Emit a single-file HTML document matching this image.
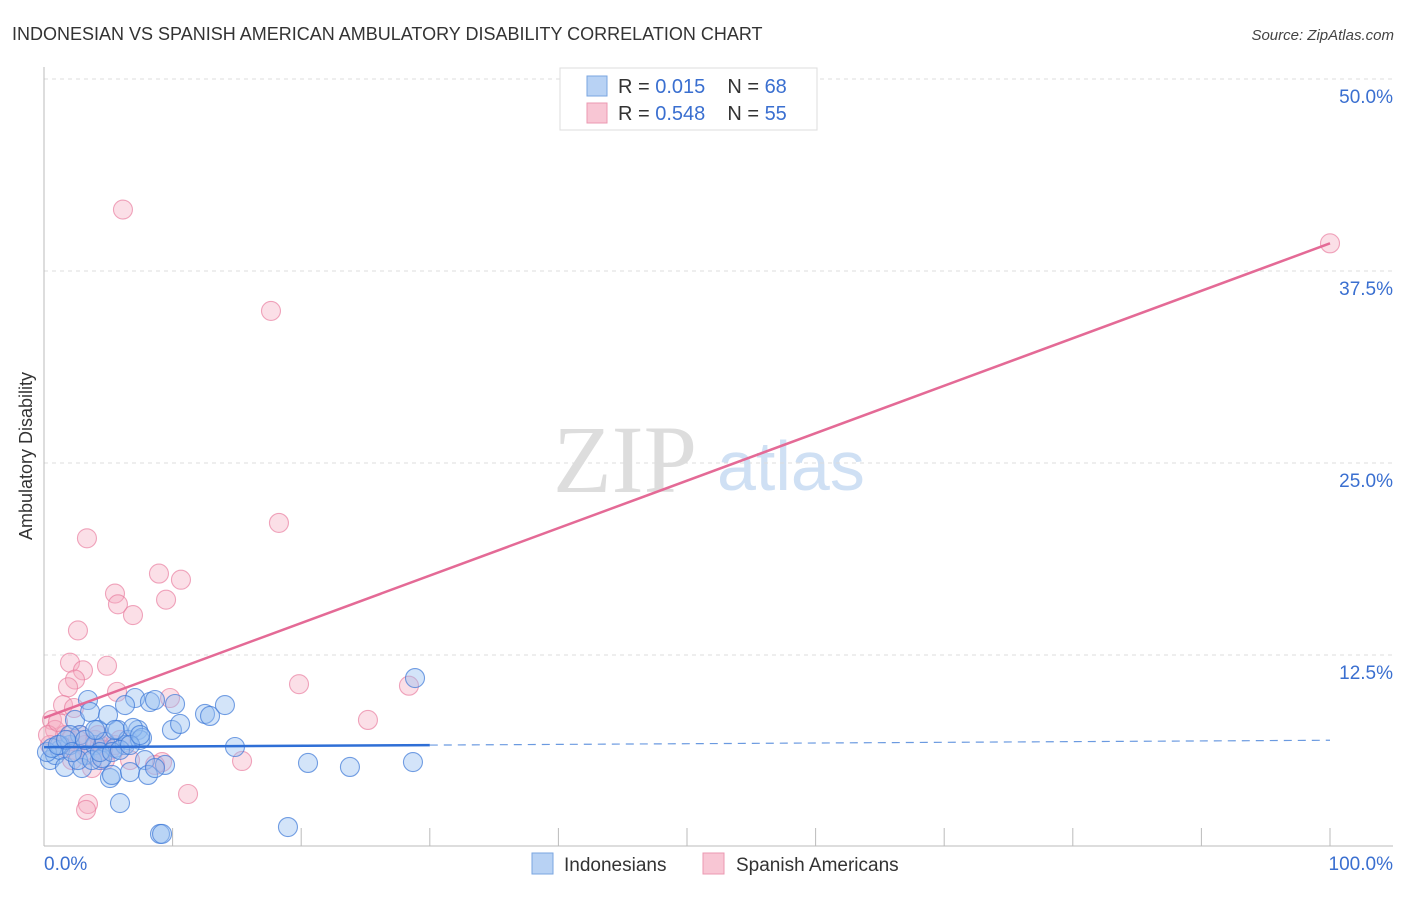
<!DOCTYPE html>
<html><head><meta charset="utf-8"><style>
body{margin:0;background:#fff;font-family:"Liberation Sans",sans-serif;}
svg text{font-family:"Liberation Sans",sans-serif;}
</style></head><body>
<svg id="chart" width="1406" height="892" xmlns="http://www.w3.org/2000/svg">
<text x="12" y="40" font-size="18" fill="#333">INDONESIAN VS SPANISH AMERICAN AMBULATORY DISABILITY CORRELATION CHART</text>
<text x="1394" y="40" font-size="15" fill="#444" font-style="italic" text-anchor="end">Source: ZipAtlas.com</text>
<g>
<text x="553" y="492" font-size="96" fill="#ddd" style="font-family:'Liberation Serif',serif">ZIP</text>
<text x="717" y="490" font-size="70" fill="#cfe0f4">atlas</text>
</g>
<g id="grid"></g>
<g id="axes"></g>
<text transform="translate(32,456) rotate(-90)" font-size="18" fill="#333" text-anchor="middle">Ambulatory Disability</text>
<g id="marks"></g>
<g>
<rect x="560" y="68" width="257" height="62" fill="#fff" stroke="#ddd"/>
<rect x="587" y="76" width="20" height="20" fill="#b8d2f4" stroke="#7aa6e0"/>
<rect x="587" y="103" width="20" height="20" fill="#f8c6d4" stroke="#eb98b2"/>
<text x="618" y="93" font-size="20" fill="#333">R = <tspan fill="#3a6fd0">0.015</tspan><tspan dx="22">N = </tspan><tspan fill="#3a6fd0">68</tspan></text>
<text x="618" y="120" font-size="20" fill="#333">R = <tspan fill="#3a6fd0">0.548</tspan><tspan dx="22">N = </tspan><tspan fill="#3a6fd0">55</tspan></text>
</g>
<g>
<rect x="532" y="853" width="21" height="21" fill="#b8d2f4" stroke="#7aa6e0"/>
<text x="564" y="871" font-size="19" fill="#333">Indonesians</text>
<rect x="703" y="853" width="21" height="21" fill="#f8c6d4" stroke="#eb98b2"/>
<text x="736" y="871" font-size="19" fill="#333">Spanish Americans</text>
</g>
</svg>
<script>
const yTicks=[12.5,25,37.5,50];
const yTickLabels=["12.5%","25.0%","37.5%","50.0%"];
const xTickVals=[0,10,20,30,40,50,60,70,80,90,100];
const blueX=[0.47,0.86,1.24,1.63,2.02,2.41,2.80,3.19,2.95,3.42,3.58,3.97,4.20,4.35,4.74,4.98,5.13,5.29,5.52,5.75,5.91,6.30,6.53,6.69,7.08,7.31,7.47,7.85,8.09,8.24,8.63,9.02,9.18,9.41,9.95,10.19,10.58,12.52,12.91,14.07,14.85,18.97,20.53,23.79,28.69,28.85,1.24,2.02,2.64,3.73,4.51,5.52,6.30,6.92,7.62,8.63,0.23,0.62,1.09,1.71,2.18,3.19,3.97,4.35,5.29,5.91,6.69,7.47];
const blueY=[5.66,5.99,6.32,5.21,6.64,8.27,7.29,5.99,5.14,9.57,8.79,6.64,7.62,5.66,6.84,8.59,4.49,4.69,6.45,7.62,2.86,6.64,6.97,4.88,9.70,7.62,6.97,5.66,4.69,9.44,9.57,0.85,0.85,5.34,7.62,9.31,8.01,8.66,8.53,9.24,6.51,1.30,5.47,5.21,5.53,11.0,6.64,7.29,5.66,5.66,5.79,7.62,9.24,7.75,7.10,5.14,6.18,6.45,6.64,6.97,6.18,6.97,7.62,6.18,6.18,6.32,6.64,7.29];
const pinkX=[6.14,17.65,18.27,3.34,8.94,10.65,5.52,5.75,9.49,6.92,2.64,2.02,3.03,4.90,2.41,1.87,5.68,9.80,19.83,28.38,25.19,15.40,11.20,3.42,3.27,9.18,0.62,0.86,1.24,1.63,2.02,2.41,2.80,3.19,3.58,3.97,4.35,4.74,5.13,5.52,5.91,0.47,0.31,1.09,1.63,2.18,2.64,3.73,4.20,4.59,6.69,8.63,100,1.48,2.33];
const pinkY=[41.5,34.9,21.1,20.1,17.8,17.4,16.5,15.8,16.1,15.1,14.1,12.0,11.5,11.8,10.9,10.4,10.1,9.70,10.6,10.5,8.27,5.60,3.45,2.80,2.41,5.53,8.27,7.62,6.64,7.29,6.97,6.32,7.29,6.64,5.99,6.97,6.64,5.66,6.32,6.64,6.97,6.64,7.29,8.14,6.45,5.66,6.97,5.14,7.29,6.32,5.66,5.34,39.3,9.24,9.05];
const blueTrend=[6.5,6.95];
const pinkTrend=[8.4,39.3];
const NS="http://www.w3.org/2000/svg";
const X0=44,X1=1330,Y0=847,Y50=79;
const xs=v=>X0+v/100*(X1-X0);
const ys=v=>Y0-v/50*(Y0-Y50);
function mk(tag,attrs,parent){const e=document.createElementNS(NS,tag);for(const k in attrs)e.setAttribute(k,attrs[k]);parent.appendChild(e);return e;}
const grid=document.getElementById('grid'),axes=document.getElementById('axes'),marks=document.getElementById('marks');
yTicks.forEach((t,i)=>{
  const l=mk('line',{x1:44,x2:1393,y1:ys(t),y2:ys(t),stroke:'#ddd','stroke-dasharray':'4,4'},grid);
  
  
  const tx=mk('text',{x:1393,y:ys(t)+24,'font-size':19,fill:'#3a6fd0','text-anchor':'end'},axes);
  tx.textContent=yTickLabels[i];
  
  
});
mk('line',{x1:44,x2:44,y1:67,y2:846,stroke:'#bbb'},axes);
mk('line',{x1:44,x2:1393,y1:846,y2:846,stroke:'#bbb'},axes);
xTickVals.forEach(v=>{
  const t=mk('line',{x1:xs(v),x2:xs(v),y1:828,y2:846,stroke:'#bbb'},axes);
  
  
});
const xl0=mk('text',{x:44,y:870,'font-size':19,fill:'#3a6fd0'},axes);xl0.textContent='0.0%';


const xl1=mk('text',{x:1393,y:870,'font-size':19,fill:'#3a6fd0','text-anchor':'end'},axes);xl1.textContent='100.0%';


pinkX.forEach((v,i)=>{
  const c=mk('circle',{cx:xs(v),cy:ys(pinkY[i]),r:9.5,fill:'rgba(244,170,192,0.38)',stroke:'rgba(232,120,155,0.65)','stroke-width':1.1},marks);
  
  
});
blueX.forEach((v,i)=>{
  const c=mk('circle',{cx:xs(v),cy:ys(blueY[i]),r:9.5,fill:'rgba(150,190,240,0.42)',stroke:'rgba(60,120,215,0.7)','stroke-width':1.1},marks);
  
  
});
const bAt=v=>blueTrend[0]+(blueTrend[1]-blueTrend[0])*v/100;
const bl=mk('line',{x1:xs(0),y1:ys(bAt(0)),x2:xs(30),y2:ys(bAt(30)),stroke:'#2f6fd6','stroke-width':2.5},marks);


const bd=mk('line',{x1:xs(30),y1:ys(bAt(30)),x2:xs(100),y2:ys(bAt(100)),stroke:'#6b9ae0','stroke-width':1.2,'stroke-dasharray':'8,6'},marks);


const pl=mk('line',{x1:xs(0),y1:ys(pinkTrend[0]),x2:xs(100),y2:ys(pinkTrend[1]),stroke:'#e46a96','stroke-width':2.5},marks);


</script>
</body></html>
